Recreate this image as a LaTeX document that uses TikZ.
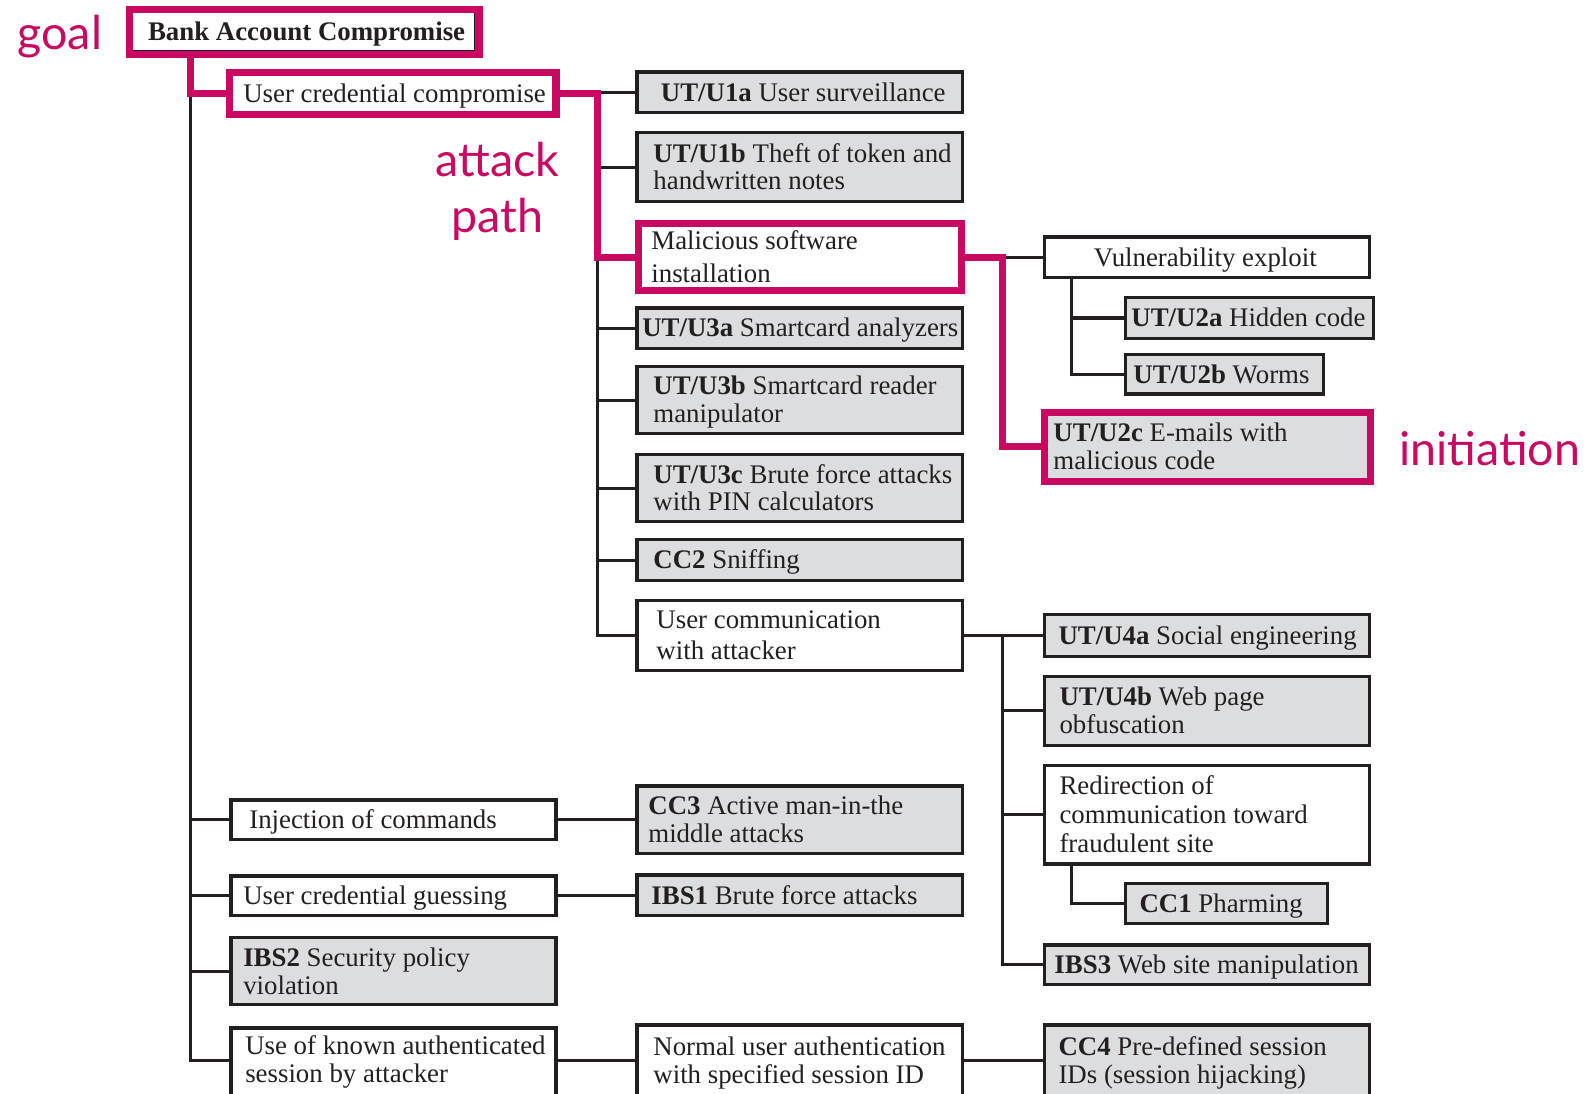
\documentclass[tikz,border=0pt]{standalone}
\usepackage{fontspec}
\setmainfont{Liberation Serif}
\newfontfamily\tagfont{Lato}
\definecolor{hot}{RGB}{201,8,98}
\definecolor{ink}{RGB}{35,31,32}
\definecolor{fillgray}{RGB}{220,221,223}
% struts that give every label the same height and depth
\newcommand\tp{\vrule height .88em width 0pt\relax}
\newcommand\bt{\vrule depth .22em width 0pt\relax}
% \bx[text opts]{style}{name}{x}{y}{w}{h}{left pad}{text}
\newcommand\bx[9][]{%
  \node[#2, minimum width=#6, minimum height=#7] (#3) at ({#4+#6/2},{#5+#7/2}) {};
  \node[txt, anchor=west, #1] (#3-t) at ([xshift=#8]#3.west) {\tp #9\bt};
}
\begin{document}
\begin{tikzpicture}[x=1pt,y=-1pt,
  font=\fontsize{26.5}{27.5}\selectfont,
  box/.style={draw=ink, line width=3.2pt, inner sep=0pt},
  wbox/.style={box, fill=white},
  gbox/.style={box, fill=fillgray},
  hlw/.style={draw=hot, line width=7pt, fill=white, inner sep=0pt},
  hlg/.style={draw=hot, line width=7pt, fill=fillgray, inner sep=0pt},
  txt/.style={inner sep=0pt, align=left, text=ink},
  link/.style={draw=ink, line width=3pt},
  hlink/.style={draw=hot, line width=7pt},
  tag/.style={text=hot, font=\tagfont\fontsize{46}{56}\selectfont, align=center, inner sep=0pt},
]
\useasboundingbox (0,0) rectangle (1568,1080);

% column rails
\coordinate (trunk) at (188,0);
\coordinate (v2) at (590,0);
\coordinate (v3) at (990,0);
\coordinate (v4) at (1058,0);
\coordinate (r4) at (0,1047);

% goal and first level
\bx{hlw}{goal}{128}{9}{345}{45}{21.5}{\textbf{Bank Account Compromise}}
\draw[ink, line width=1.2pt] ([xshift=7pt,yshift=7.6pt]goal.south west) -| ([xshift=-7.6pt,yshift=-7pt]goal.north east);
\bx{hlw}{ucred}{227}{72}{322}{41}{16.5}{User credential compromise}
\bx{wbox}{inj}{228}{790}{321}{39}{19.6}{Injection of commands}
\bx{wbox}{guess}{228}{865}{321}{39}{13.6}{User credential guessing}
\bx{gbox}{ibs2}{228}{926}{321}{66}{13.6}{\textbf{IBS2} Security policy\\violation}
\bx[yshift=4]{wbox}{usek}{228}{1015}{321}{70}{15.6}{Use of known authenticated\\session by attacker}

% second level
\bx{gbox}{u1a}{629}{71}{321}{40}{25}{\textbf{UT/U1a} User surveillance}
\bx{gbox}{u1b}{629}{131}{321}{68}{17.6}{\textbf{UT/U1b} Theft of token and\\handwritten notes}
\bx{hlw}{mal}{630}{221}{319}{66}{16.5}{Malicious software\\[5pt]installation}
\bx{gbox}{u3a}{629}{304}{321}{40}{6.6}{\textbf{UT/U3a} Smartcard analyzers}
\bx{gbox}{u3b}{629}{362}{321}{66}{17.6}{\textbf{UT/U3b} Smartcard reader\\manipulator}
\bx{gbox}{u3c}{629}{449}{321}{66}{17.6}{\textbf{UT/U3c} Brute force attacks\\with PIN calculators}
\bx{gbox}{cc2}{629}{533}{321}{40}{17.6}{\textbf{CC2} Sniffing}
\bx{wbox}{ucomm}{629}{593}{321}{69}{20.6}{User communication\\[3pt]with attacker}
\bx{gbox}{cc3}{629}{776}{321}{67}{12.6}{\textbf{CC3} Active man-in-the\\middle attacks}
\bx{gbox}{ibs1}{629}{864}{321}{40}{15.6}{\textbf{IBS1} Brute force attacks}
\bx{wbox}{normal}{629}{1012}{321}{70}{17.6}{Normal user authentication\\with specified session ID}

% third level
\bx{wbox}{vuln}{1031}{234}{321}{40}{50.6}{Vulnerability exploit}
\bx{gbox}{u2a}{1111}{294}{245}{40}{7.6}{\textbf{UT/U2a} Hidden code}
\bx{gbox}{u2b}{1111}{350}{196}{39}{9.6}{\textbf{UT/U2b} Worms}
\bx{hlg}{u2c}{1031}{407}{322}{68}{12.5}{\textbf{UT/U2c} E-mails with\\malicious code}
\bx{gbox}{u4a}{1031}{607}{321}{41}{15.6}{\textbf{UT/U4a} Social engineering}
\bx{gbox}{u4b}{1031}{668}{321}{68}{16.6}{\textbf{UT/U4b} Web page\\obfuscation}
\bx{wbox}{redir}{1031}{756}{321}{97}{16.6}{Redirection of\\[1pt]communication toward\\[1pt]fraudulent site}
\bx{gbox}{cc1}{1111}{872}{200}{40}{15.6}{\textbf{CC1} Pharming}
\bx{gbox}{ibs3}{1031}{933}{321}{39}{11.6}{\textbf{IBS3} Web site manipulation}
\bx{gbox}{cc4}{1031}{1012}{321}{70}{15.6}{\textbf{CC4} Pre-defined session\\IDs (session hijacking)}

% plain connectors
\draw[link] (trunk |- ucred.west) |- (usek.west |- r4);
\draw[link] (trunk |- inj.west) -- (inj.west);
\draw[link] (trunk |- guess.west) -- (guess.west);
\draw[link] (trunk |- ibs2.west) -- (ibs2.west);
\draw[link] (inj.east) -- (cc3.west |- inj.east);
\draw[link] (guess.east) -- (ibs1.west |- guess.east);
\draw[link] (usek.east |- r4) -- (normal.west |- r4);
\draw[link] (normal.east |- r4) -- (cc4.west |- r4);

\draw[link] (v2 |- u1a.west) -- (u1a.west);
\draw[link] (v2 |- u1b.west) -- (u1b.west);
\draw[link] (v2 |- mal.west) |- (ucomm.west);
\draw[link] (v2 |- u3a.west) -- (u3a.west);
\draw[link] (v2 |- u3b.west) -- (u3b.west);
\draw[link] (v2 |- u3c.west) -- (u3c.west);
\draw[link] (v2 |- cc2.west) -- (cc2.west);

\draw[link] (v3 |- mal.east) -- (vuln.west);
\draw[link] (vuln.south -| v4) |- (u2b.west);
\draw[link] (v4 |- u2a.west) -- (u2a.west);

\draw[link] (ucomm.east) -- (u4a.west |- ucomm.east);
\draw[link] (v3 |- ucomm.east) |- (ibs3.west);
\draw[link] (v3 |- u4b.west) -- (u4b.west);
\draw[link] (v3 |- redir.west) -- (redir.west);
\draw[link] (redir.south -| v4) |- (cc1.west);

% highlighted attack path
\draw[hlink] (goal.south -| trunk) |- (ucred.west);
\draw[hlink] (ucred.east) -| (v2 |- mal.west) -- (mal.west);
\draw[hlink] (mal.east) -| (v3 |- u2c.west) -- (u2c.west);

% annotations
\node[tag] (goal-tag) at (59,36) {goal};
\node[tag] (path-tag) at (491,189) {attack\\path};
\node[tag] (init-tag) at (1471,443) {initiation};
\end{tikzpicture}
\end{document}
